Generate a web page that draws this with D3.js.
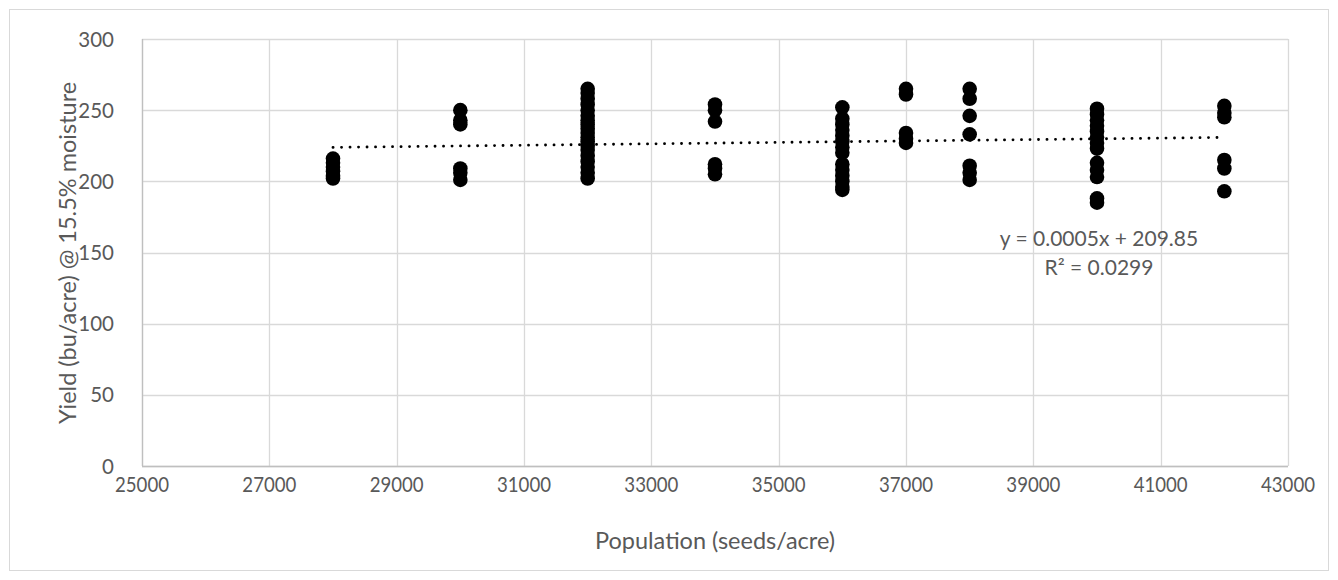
<!DOCTYPE html>
<html><head><meta charset="utf-8">
<script src="https://cdn.jsdelivr.net/npm/d3@7"></script>
<style>
body{margin:0;background:#fff;}
text{font-family:Lato,"Open Sans",sans-serif;fill:#595959;}
</style></head>
<body><svg id="c" width="1338" height="580"></svg>
<script>
const populations = [28000, 30000, 32000, 34000, 36000, 37000, 38000, 40000, 42000];
const yields28000 = [202, 204, 207, 210, 213, 216];
const yields30000 = [201, 206, 209, 240, 243, 250];
const yields32000 = [202, 206, 210, 214, 218, 222, 225, 228, 231, 234, 237, 240, 243, 246, 250, 254, 258, 262, 265];
const yields34000 = [205, 209, 212, 242, 250, 254];
const yields36000 = [194, 196, 200, 204, 208, 212, 220, 224, 228, 232, 236, 240, 244, 252];
const yields37000 = [227, 230, 234, 261, 265];
const yields38000 = [201, 206, 211, 233, 246, 258, 265];
const yields40000 = [185, 188, 203, 208, 213, 223, 227, 231, 235, 239, 243, 247, 251];
const yields42000 = [193, 209, 215, 245, 248, 253];
const yieldGroups = [yields28000, yields30000, yields32000, yields34000, yields36000, yields37000, yields38000, yields40000, yields42000];
const xTicks = [25000, 27000, 29000, 31000, 33000, 35000, 37000, 39000, 41000, 43000];
const yTicks = [0, 50, 100, 150, 200, 250, 300];
const trendSlope = [0.0005];
const trendIntercept = [209.85];
const trendLabels = ["y = 0.0005x + 209.85", "R\u00b2 = 0.0299"];

const points = [];
populations.forEach((p, i) => yieldGroups[i].forEach(v => points.push({x: p, y: v})));

const svg = d3.select("#c");
svg.append("rect").attr("x", 9.5).attr("y", 9.5).attr("width", 1319).attr("height", 561)
  .attr("fill", "#fff").attr("stroke", "#d9d9d9");

const x = d3.scaleLinear().domain([25000, 43000]).range([142, 1288]);
const y = d3.scaleLinear().domain([0, 300]).range([466, 39]);

// gridlines
svg.append("g").selectAll("line.h").data(yTicks).join("line")
  .attr("x1", x(25000)).attr("x2", x(43000))
  .attr("y1", d => Math.round(y(d)) + 0.5).attr("y2", d => Math.round(y(d)) + 0.5)
  .attr("stroke", "#d9d9d9").attr("stroke-width", 1.3);
svg.append("g").selectAll("line.v").data(xTicks).join("line")
  .attr("y1", y(0)).attr("y2", y(300))
  .attr("x1", d => Math.round(x(d)) + 0.5).attr("x2", d => Math.round(x(d)) + 0.5)
  .attr("stroke", "#d9d9d9").attr("stroke-width", 1.3);

// axes lines
svg.append("line").attr("x1", x(25000)).attr("x2", x(43000)).attr("y1", Math.round(y(0)) + 0.5).attr("y2", Math.round(y(0)) + 0.5).attr("stroke", "#bfbfbf").attr("stroke-width", 1.3);
svg.append("line").attr("x1", Math.round(x(25000)) + 0.5).attr("x2", Math.round(x(25000)) + 0.5).attr("y1", y(0)).attr("y2", y(300)).attr("stroke", "#bfbfbf").attr("stroke-width", 1.3);

// tick labels
svg.append("g").selectAll("text").data(xTicks).join("text")
  .attr("x", d => x(d)).attr("y", 492).attr("text-anchor", "middle")
  .attr("font-size", 20.5).attr("textLength", 54).attr("lengthAdjust", "spacingAndGlyphs")
  .text(d => d);
svg.append("g").selectAll("text").data(yTicks).join("text")
  .attr("x", 114).attr("y", d => y(d) + 7.5).attr("text-anchor", "end")
  .attr("font-size", 20.5).text(d => d);

// axis titles
svg.append("text").attr("x", 715).attr("y", 549).attr("text-anchor", "middle")
  .attr("font-size", 23.5).text("Population (seeds/acre)");
svg.append("text").attr("transform", "translate(76,253) rotate(-90)").attr("text-anchor", "middle")
  .attr("font-size", 23.5).text("Yield (bu/acre) @ 15.5% moisture");

// points
svg.append("g").selectAll("circle").data(points).join("circle")
  .attr("cx", d => x(d.x)).attr("cy", d => y(d.y)).attr("r", 7.3).attr("fill", "#000");

// trendline
const xMin = d3.min(populations), xMax = d3.max(populations);
svg.append("line")
  .attr("x1", x(xMin)).attr("y1", y(trendSlope[0] * xMin + trendIntercept[0]))
  .attr("x2", x(xMax)).attr("y2", y(trendSlope[0] * xMax + trendIntercept[0]))
  .attr("stroke", "#000").attr("stroke-width", 2.8)
  .attr("stroke-dasharray", "0.1 8.4").attr("stroke-linecap", "round");

// trend labels
svg.append("text").attr("x", 1099).attr("y", 246).attr("text-anchor", "middle").attr("font-size", 21).text(trendLabels[0]);
svg.append("text").attr("x", 1099).attr("y", 275).attr("text-anchor", "middle").attr("font-size", 21).text(trendLabels[1]);
</script></body></html>
